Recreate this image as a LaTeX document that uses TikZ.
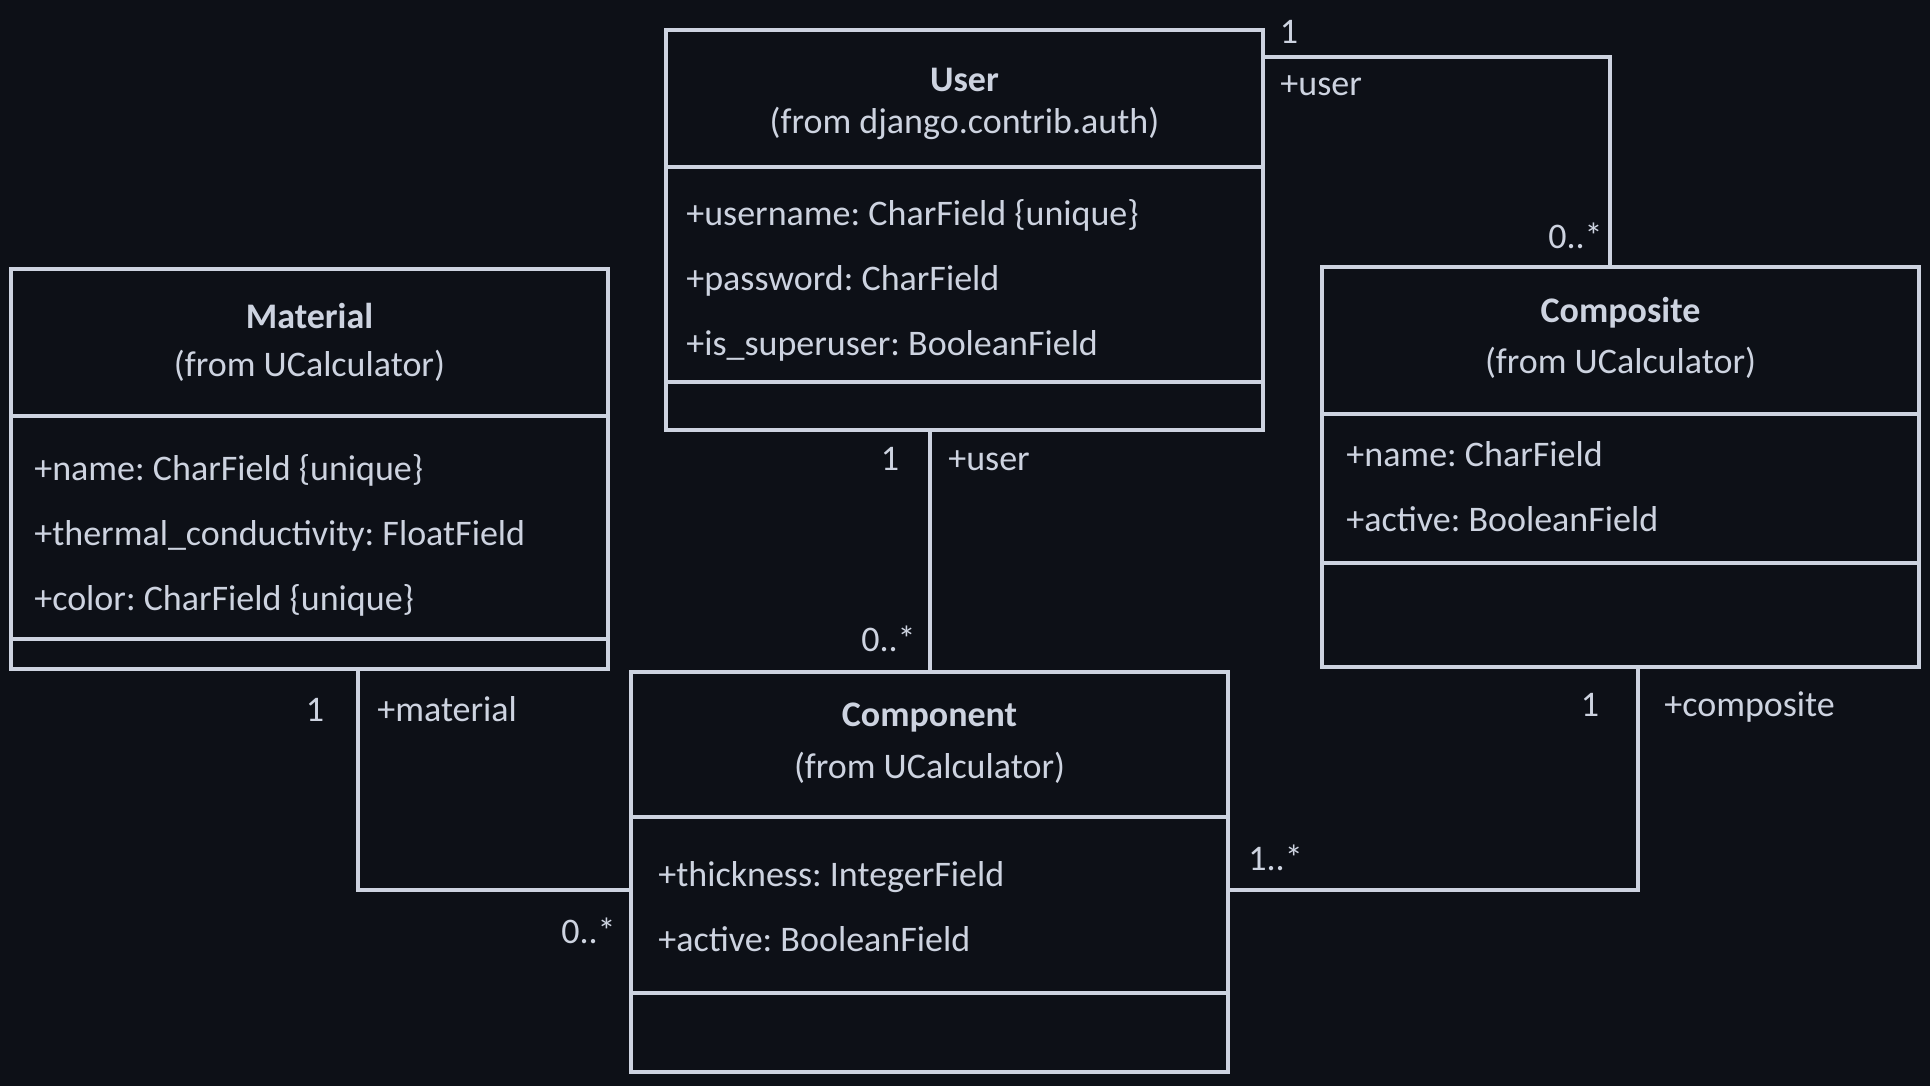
\documentclass[tikz,border=0pt]{standalone}
\usepackage{fontspec}
\setmainfont{Carlito}
\frenchspacing
\usetikzlibrary{positioning,calc}
\definecolor{bgdark}{RGB}{13,16,23}
\definecolor{umlline}{RGB}{205,211,224}
\tikzset{
  classbox/.style={draw=umlline, line width=2pt, minimum width=298.5pt, minimum height=200pt, anchor=north west, inner sep=0pt},
  ctitle/.style={text=umlline, font=\fontsize{18}{20}\selectfont\bfseries, inner sep=0pt, yshift=-1pt},
  cfrom/.style={text=umlline, font=\fontsize{18}{20}\selectfont, inner sep=0pt, yshift=-1pt},
  attr/.style={text=umlline, font=\fontsize{18}{20}\selectfont, anchor=west, inner sep=0pt, text height=.75em, text depth=.25em, yshift=-3.5pt},
  mult/.style={attr, anchor=center},
  assoc/.style={draw=umlline, line width=2pt}
}

\begin{document}
\begin{tikzpicture}[x=0.5pt,y=-0.5pt]
\fill[bgdark] (0,0) rectangle (1930,1086);
\useasboundingbox (0,0) rectangle (1930,1086);

% classes
\node[classbox] (user) at (664,28) {};
\node[classbox] (material) at (9,267) {};
\node[classbox] (composite) at (1320,265) {};
\node[classbox] (component) at (629,670) {};

% compartments
\draw[assoc] (user.west |- 0,167) -- (user.east |- 0,167);
\draw[assoc] (user.west |- 0,382) -- (user.east |- 0,382);
\draw[assoc] (material.west |- 0,416) -- (material.east |- 0,416);
\draw[assoc] (material.west |- 0,639) -- (material.east |- 0,639);
\draw[assoc] (composite.west |- 0,414) -- (composite.east |- 0,414);
\draw[assoc] (composite.west |- 0,563) -- (composite.east |- 0,563);
\draw[assoc] (component.west |- 0,817) -- (component.east |- 0,817);
\draw[assoc] (component.west |- 0,993) -- (component.east |- 0,993);

% User
\node[ctitle] (user name) at (user.north |- 0,78) {User};
\node[cfrom] (user from) at (user.north |- 0,121) {(from django.contrib.auth)};
\node[attr] (user a1) at (686,213) {+username: CharField \{unique\}};
\node[attr] (user a2) at (686,278) {+password: CharField};
\node[attr] (user a3) at (686,343) {+is\_superuser: BooleanField};

% Material
\node[ctitle] (material name) at (material.north |- 0,314) {Material};
\node[cfrom] (material from) at (material.north |- 0,364) {(from UCalculator)};
\node[attr] (material a1) at (34,468) {+name: CharField \{unique\}};
\node[attr] (material a2) at (34,533) {+thermal\_conductivity: FloatField};
\node[attr] (material a3) at (34,598) {+color: CharField \{unique\}};

% Composite
\node[ctitle] (composite name) at (composite.north |- 0,311) {Composite};
\node[cfrom] (composite from) at (composite.north |- 0,361) {(from UCalculator)};
\node[attr] (composite a1) at (1346,454) {+name: CharField};
\node[attr] (composite a2) at (1346,519) {+active: BooleanField};

% Component
\node[ctitle] (component name) at (component.north |- 0,716) {Component};
\node[cfrom] (component from) at (component.north |- 0,766) {(from UCalculator)};
\node[attr] (component a1) at (658,874) {+thickness: IntegerField};
\node[attr] (component a2) at (658,939) {+active: BooleanField};

% associations
\draw[assoc] ([yshift=-14.5pt]user.north east) -| ([xshift=-5.25pt]composite.north);
\draw[assoc] (component.north) -- (component.north |- user.south);
\draw[assoc] ([xshift=24.25pt]material.south) |- ([yshift=-110pt]component.north west);
\draw[assoc] ([xshift=8.75pt]composite.south) |- ([yshift=-110pt]component.north east);

% multiplicities and roles
\node[mult] (uco one) at (1289,32) {1};
\node[attr] (uco role) at (1280,84) {+user};
\node[mult, anchor=east] (uco many) at (1603,236) {0..*};
\node[mult] (ucp one) at (890,458) {1};
\node[attr] (ucp role) at (948,458) {+user};
\node[mult, anchor=east] (ucp many) at (916,639) {0..*};
\node[mult] (mcp one) at (315,709) {1};
\node[attr] (mcp role) at (377,709) {+material};
\node[mult, anchor=east] (mcp many) at (616,931) {0..*};
\node[mult] (ccp one) at (1590,704) {1};
\node[attr] (ccp role) at (1664,704) {+composite};
\node[attr] (ccp many) at (1248,858) {1..*};
\end{tikzpicture}
\end{document}
